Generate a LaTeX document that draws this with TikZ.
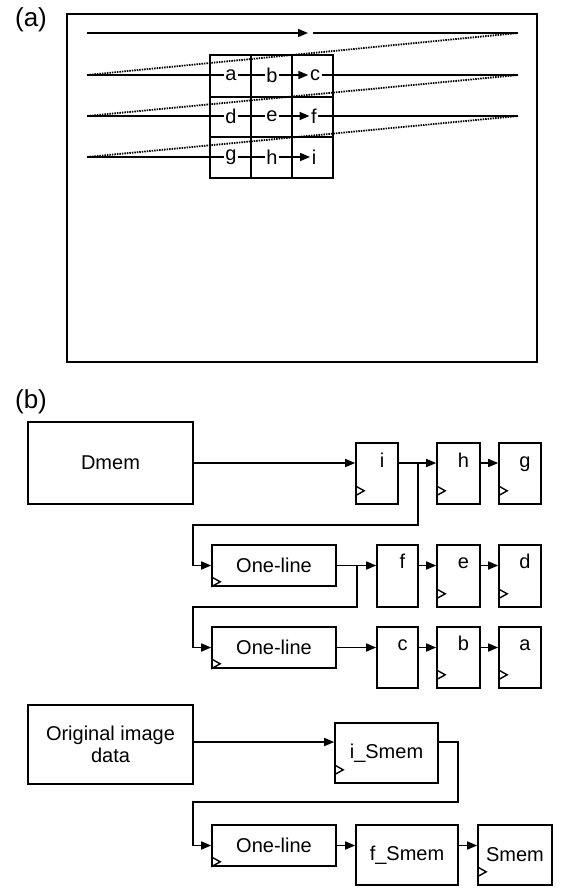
\documentclass[tikz,border=0pt]{standalone}
\usepackage{fontspec}
\setmainfont{Liberation Sans}
\usetikzlibrary{arrows.meta,calc}
\newcommand{\clkmark}[2]{\draw[clk] ($(#1.south west)+(0,-#2-10)$) -- ++(9,5) -- ++(-9,5);}
\begin{document}
\begin{tikzpicture}[x=1pt,y=-1pt,
  every node/.style={font=\fontsize{20}{22}\selectfont},
  box/.style={draw, line width=1.6pt, inner sep=0pt, rectangle},
  ln/.style={line width=1.6pt},
  arr/.style={line width=1.6pt, -{Triangle[length=10pt,width=8pt]}},
  dots/.style={line width=1.8pt, dash pattern=on 1.5pt off 1pt},
  clk/.style={line width=1.4pt, line join=miter},
  ltr/.style={inner sep=1.5pt},
  lab/.style={font=\fontsize{26}{30}\selectfont}]
\useasboundingbox (0,0) rectangle (564,888);

% ---------------- (a) ----------------
\node[lab] (labA) at (31,20) {(a)};
\node[box, line width=2pt, minimum width=470pt, minimum height=348pt] (frameA) at (302,188) {};

\coordinate (L0) at (87,33);
\coordinate (M0) at (308,33);
\coordinate (N0) at (313,33);
\coordinate (R0) at (518,33);
\coordinate (L1) at (87,75);
\coordinate (R1) at (518,75);
\coordinate (L2) at (87,116);
\coordinate (R2) at (518,116);
\coordinate (L3) at (87,157);

\draw[dots] (L1) -- (R0);
\draw[dots] (L2) -- (R1);
\draw[dots] (L3) -- (R2);

\draw[ln] (210,55) rectangle (333,178);
\draw[ln] (251,55) -- (251,178);
\draw[ln] (292,55) -- (292,178);
\draw[ln] (210,97) -- (333,97);
\draw[ln] (210,137) -- (333,137);

\node[ltr] (la) at (231,75) {a};
\node[ltr] (lb) at (272,75) {b};
\node[ltr] (lc) at (315,75) {c};
\node[ltr] (ld) at (231,116) {d};
\node[ltr] (le) at (272,116) {e};
\node[ltr] (lf) at (314,116) {f};
\node[ltr] (lg) at (231,157) {g};
\node[ltr] (lh) at (272,157) {h};
\node[ltr] (li) at (314,157) {i};

\draw[arr] (L0) -- (M0);
\draw[ln] (N0) -- (R0);

\draw[ln] (L1) -- (la);
\draw[ln] (la) -- (lb);
\draw[arr] (lb) -- (lc);
\draw[ln] (lc) -- (R1);

\draw[ln] (L2) -- (ld);
\draw[ln] (ld) -- (le);
\draw[arr] (le) -- (lf);
\draw[ln] (lf) -- (R2);

\draw[ln] (L3) -- (lg);
\draw[ln] (lg) -- (lh);
\draw[arr] (lh) -- (li);

% ---------------- (b) ----------------
\node[lab] (labB) at (31,402) {(b)};

\node[box, minimum width=165pt, minimum height=82pt] (dmem) at (110.5,463) {Dmem};
\node[box, minimum width=42pt, minimum height=61pt] (ri) at (377,473.5) {};
\node[box, minimum width=43pt, minimum height=61pt] (rh) at (458.5,473.5) {};
\node[box, minimum width=42pt, minimum height=61pt] (rg) at (520,473.5) {};
\node[anchor=base] (ti) at (382,467) {i};
\node[anchor=base] (th) at (463.5,467) {h};
\node[anchor=base] (tg) at (525,467) {g};

\node[box, minimum width=124pt, minimum height=41pt] (ol1) at (274,565.5) {One-line};
\node[box, minimum width=41pt, minimum height=62pt] (rf) at (397.5,576) {};
\node[box, minimum width=43pt, minimum height=62pt] (re) at (458.5,576) {};
\node[box, minimum width=42pt, minimum height=62pt] (rd) at (520,576) {};
\node[anchor=base] (tf) at (402.5,568) {f};
\node[anchor=base] (te) at (463.5,568) {e};
\node[anchor=base] (td) at (525,568) {d};

\node[box, minimum width=124pt, minimum height=41pt] (ol2) at (274,647.5) {One-line};
\node[box, minimum width=41pt, minimum height=61pt] (rc) at (397.5,657.5) {};
\node[box, minimum width=43pt, minimum height=61pt] (rb) at (458.5,657.5) {};
\node[box, minimum width=42pt, minimum height=61pt] (ra) at (520,657.5) {};
\node[anchor=base] (tc) at (402.5,650) {c};
\node[anchor=base] (tb) at (463.5,650) {b};
\node[anchor=base] (ta) at (525,650) {a};

\node[box, minimum width=165pt, minimum height=79pt, align=center] (orig) at (110.5,744.5) {Original image\\data};
\node[box, minimum width=103pt, minimum height=60pt] (ismem) at (386.5,753) {i\_Smem};
\node[box, minimum width=124pt, minimum height=41pt] (ol3) at (274,845.5) {One-line};
\node[box, minimum width=102pt, minimum height=60pt] (fsmem) at (407,855) {f\_Smem};
\node[box, minimum width=74pt, minimum height=60pt] (smem) at (515,855) {Smem};

% clocks
\clkmark{ri}{9}
\clkmark{rh}{9}
\clkmark{rg}{9}
\clkmark{re}{9}
\clkmark{rd}{9}
\clkmark{rb}{9}
\clkmark{ra}{9}
\clkmark{ol1}{0}
\clkmark{ol2}{0}
\clkmark{ol3}{0}
\clkmark{ismem}{9}
\clkmark{smem}{9}

% connectors row 1
\draw[arr] (dmem.east) -- (dmem.east -| ri.west);
\draw[arr] (ri.east |- dmem.east) -- (rh.west |- dmem.east);
\draw[arr] (rh.east |- dmem.east) -- (rg.west |- dmem.east);
\coordinate (j1) at (418,463);
\coordinate (k1) at (193,525);
\draw[arr] (j1) |- (k1) |- (ol1.west);

% row 2
\draw[arr] (ol1.east) -- (ol1.east -| rf.west);
\draw[arr] (rf.east |- ol1.east) -- (re.west |- ol1.east);
\draw[arr] (re.east |- ol1.east) -- (rd.west |- ol1.east);
\coordinate (j2) at (357,565.5);
\coordinate (k2) at (193,607);
\draw[arr] (j2) |- (k2) |- (ol2.west);

% row 3
\draw[arr] (ol2.east) -- (ol2.east -| rc.west);
\draw[arr] (rc.east |- ol2.east) -- (rb.west |- ol2.east);
\draw[arr] (rb.east |- ol2.east) -- (ra.west |- ol2.east);

% Smem part
\coordinate (o1) at (193,742);
\draw[arr] (o1) -- (o1 -| ismem.west);
\coordinate (s1) at (438,742);
\coordinate (k3) at (458,802);
\coordinate (k4) at (193,802);
\draw[arr] (s1) -| (k3) -- (k4) |- (ol3.west);
\draw[arr] (ol3.east) -- (ol3.east -| fsmem.west);
\draw[arr] (fsmem.east |- ol3.east) -- (smem.west |- ol3.east);
\end{tikzpicture}
\end{document}
